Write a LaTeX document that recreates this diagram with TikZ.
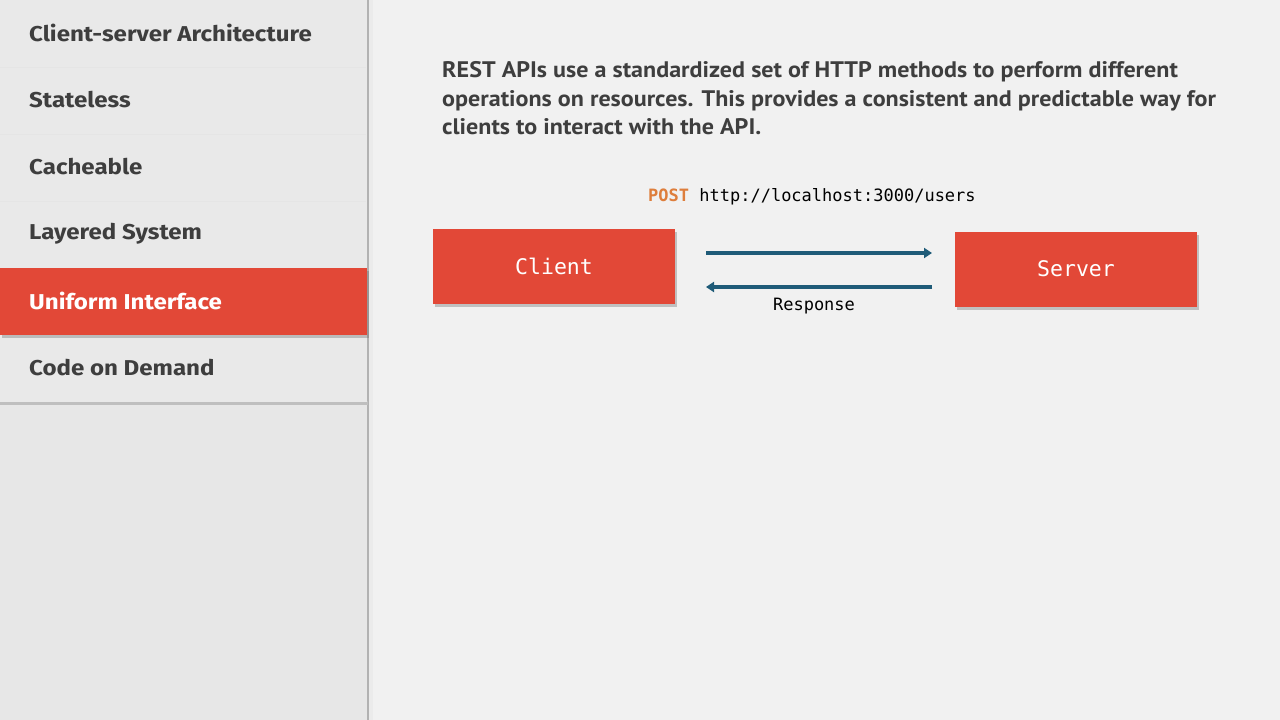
\documentclass[tikz,border=0pt]{standalone}
\usepackage{fontspec}
\setmainfont{PT Sans}
\newfontfamily\parafont{PT Sans}[FakeStretch=1.07]
\newfontfamily\sidefont{Fira Sans}[FakeStretch=1.12]
\newfontfamily\monofont{DejaVu Sans Mono}
\usetikzlibrary{shadows,arrows.meta}
\definecolor{bgright}{HTML}{F1F1F1}
\definecolor{bgleft}{HTML}{E7E7E7}
\definecolor{sidebar}{HTML}{E9E9E9}
\definecolor{redbox}{HTML}{E24837}
\definecolor{txtgray}{HTML}{3E3E3E}
\definecolor{arrowblue}{HTML}{1F5B78}
\definecolor{postorange}{HTML}{DE7E3C}
\definecolor{sepline}{HTML}{E5E5E5}
\tikzset{
  sideitem/.style={anchor=west, font=\sidefont\bfseries\fontsize{21.5}{25}\selectfont, text=txtgray, inner sep=0pt},
  redbox/.style={fill=redbox, minimum width=242pt, minimum height=75pt, text=white, font=\monofont\fontsize{21.5}{26}\selectfont, inner sep=0pt,
    drop shadow={shadow xshift=2pt, shadow yshift=-3pt, opacity=.35, fill=black!60}},
  flow/.style={draw=arrowblue, line width=3.2pt, -{Triangle[length=8pt,width=10pt]}},
  monotext/.style={font=\monofont\fontsize{17}{20}\selectfont, inner sep=0pt},
}
\begin{document}
\begin{tikzpicture}[x=1pt,y=-1pt]
\useasboundingbox (0,0) rectangle (1280,720);
% backgrounds
\fill[bgright] (0,0) rectangle (1280,720);
\fill[bgleft] (0,0) rectangle (368,720);
\fill[black!30] (366.5,0) rectangle (368.5,720);
\fill[black!8] (368.5,0) rectangle (373,720);
% sidebar panel with shadow
\fill[black!25] (0,401) rectangle (368,405);
\fill[sidebar] (0,0) rectangle (366.5,402);
\fill[redbox] (0,268) rectangle (366.5,335);
\foreach \yy in {67,134,201} { \draw[sepline, line width=1pt] (0,\yy) -- (366,\yy); }
\node[sideitem] (s1) at (29,33) {Client-server Architecture};
\node[sideitem] (s2) at (29,100) {Stateless};
\node[sideitem] (s3) at (29,167) {Cacheable};
\node[sideitem] (s4) at (29,234) {Layered System};
\node[sideitem, text=white] (s5) at (29,301) {Uniform Interface};
\node[sideitem] (s6) at (29,368) {Code on Demand};
% paragraph
\node[anchor=north west, inner sep=0pt, align=left, text=txtgray,
      font=\parafont\bfseries\fontsize{22.5}{28.5}\selectfont] (para) at (442,61.5)
  {REST APIs use a standardized set of HTTP methods to perform different\\
   operations on resources. This provides a consistent and predictable way for\\
   clients to interact with the API.};
% request line
\node[monotext, anchor=west] (req) at (648,197) {\textcolor{postorange}{\bfseries POST} http://localhost:3000/users};
% boxes
\node[redbox] (client) at (554,266) {Client};
\node[redbox] (server) at (1076,269) {Server};
% arrows
\coordinate (a1s) at (706,253);
\coordinate (a1e) at (932,253);
\coordinate (a2s) at (932,287);
\coordinate (a2e) at (706,287);
\draw[flow] (a1s) -- (a1e);
\draw[flow] (a2s) -- (a2e);
\node[monotext] (resp) at (814,306) {Response};
\end{tikzpicture}
\end{document}
